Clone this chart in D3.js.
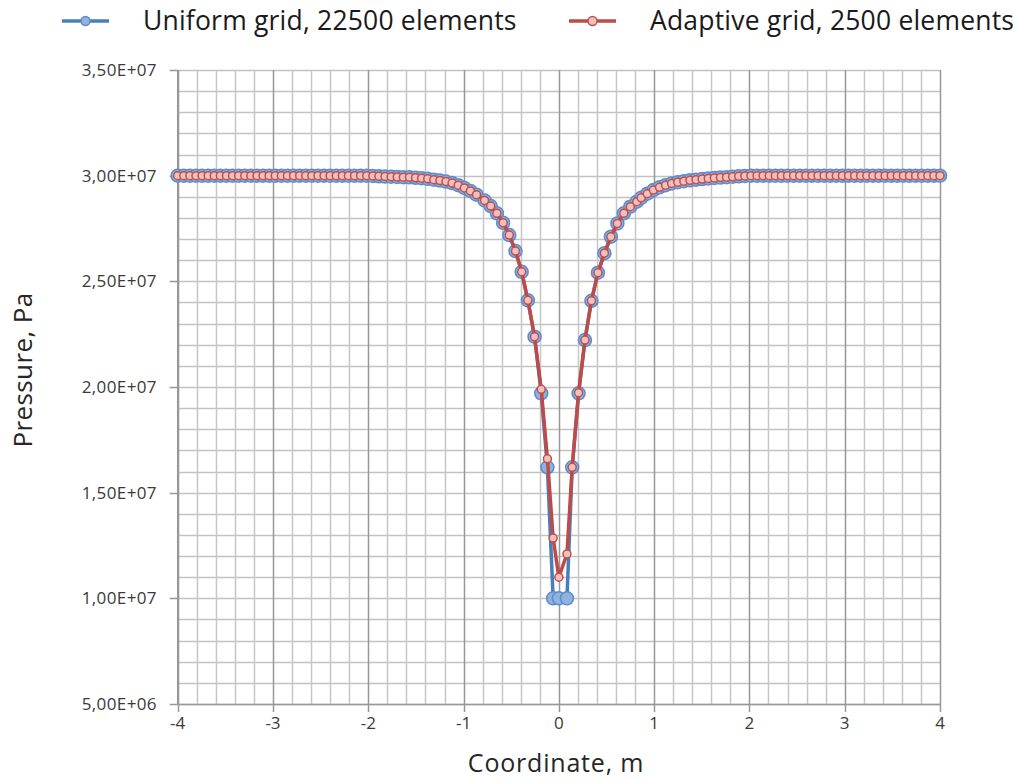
<!DOCTYPE html>
<html>
<head>
<meta charset="utf-8">
<script src="https://cdn.jsdelivr.net/npm/d3@7"></script>
<style>
  body { margin: 0; background: #fff; }
  text { font-family: "Open Sans", sans-serif; }
</style>
</head>
<body>
<script>
// coordinate of every sample point, m
var coordinate = [
  -4.000, -3.936, -3.872, -3.808, -3.744, -3.680, -3.616, -3.552, -3.488, -3.424,
  -3.360, -3.296, -3.232, -3.168, -3.104, -3.040, -2.976, -2.912, -2.848, -2.784,
  -2.720, -2.656, -2.592, -2.528, -2.464, -2.400, -2.336, -2.272, -2.208, -2.144,
  -2.080, -2.016, -1.952, -1.888, -1.824, -1.760, -1.696, -1.632, -1.568, -1.504,
  -1.440, -1.376, -1.312, -1.248, -1.184, -1.120, -1.056, -0.992, -0.928, -0.864,
  -0.780, -0.715, -0.650, -0.585, -0.520, -0.455, -0.390, -0.325, -0.255, -0.185,
  -0.120, -0.060, 0.000, 0.085, 0.140, 0.207, 0.274, 0.342, 0.410, 0.478,
  0.546, 0.614, 0.682, 0.750, 0.818,
  0.864, 0.928, 0.992, 1.056, 1.120, 1.184, 1.248, 1.312, 1.376, 1.440,
  1.504, 1.568, 1.632, 1.696, 1.760, 1.824, 1.888, 1.952, 2.016, 2.080,
  2.144, 2.208, 2.272, 2.336, 2.400, 2.464, 2.528, 2.592, 2.656, 2.720,
  2.784, 2.848, 2.912, 2.976, 3.040, 3.104, 3.168, 3.232, 3.296, 3.360,
  3.424, 3.488, 3.552, 3.616, 3.680, 3.744, 3.808, 3.872, 3.936, 4.000
];

// pressure, Pa - uniform grid
var uniformPressure = [
  3.000e7, 3.000e7, 3.000e7, 3.000e7, 3.000e7, 3.000e7, 3.000e7, 3.000e7, 3.000e7, 3.000e7,
  3.000e7, 3.000e7, 3.000e7, 3.000e7, 3.000e7, 3.000e7, 3.000e7, 3.000e7, 3.000e7, 3.000e7,
  3.000e7, 3.000e7, 3.000e7, 3.000e7, 3.000e7, 3.000e7, 3.000e7, 3.000e7, 3.000e7, 3.000e7,
  3.000e7, 3.000e7, 2.999e7, 2.997e7, 2.996e7, 2.995e7, 2.994e7, 2.993e7, 2.992e7, 2.990e7,
  2.988e7, 2.985e7, 2.981e7, 2.977e7, 2.972e7, 2.965e7, 2.955e7, 2.942e7, 2.928e7, 2.910e7,
  2.883e7, 2.856e7, 2.822e7, 2.777e7, 2.719e7, 2.643e7, 2.545e7, 2.410e7, 2.238e7, 1.970e7,
  1.620e7, 1.000e7, 1.000e7, 1.000e7, 1.620e7, 1.970e7, 2.222e7, 2.408e7, 2.541e7, 2.633e7,
  2.711e7, 2.774e7, 2.822e7, 2.853e7, 2.877e7,
  2.895e7, 2.915e7, 2.932e7, 2.945e7, 2.955e7, 2.963e7, 2.969e7, 2.974e7, 2.978e7, 2.981e7,
  2.984e7, 2.987e7, 2.989e7, 2.991e7, 2.993e7, 2.995e7, 2.997e7, 2.999e7, 3.000e7, 3.000e7,
  3.000e7, 3.000e7, 3.000e7, 3.000e7, 3.000e7, 3.000e7, 3.000e7, 3.000e7, 3.000e7, 3.000e7,
  3.000e7, 3.000e7, 3.000e7, 3.000e7, 3.000e7, 3.000e7, 3.000e7, 3.000e7, 3.000e7, 3.000e7,
  3.000e7, 3.000e7, 3.000e7, 3.000e7, 3.000e7, 3.000e7, 3.000e7, 3.000e7, 3.000e7, 3.000e7
];

// pressure, Pa - adaptive grid
var adaptivePressure = [
  3.000e7, 3.000e7, 3.000e7, 3.000e7, 3.000e7, 3.000e7, 3.000e7, 3.000e7, 3.000e7, 3.000e7,
  3.000e7, 3.000e7, 3.000e7, 3.000e7, 3.000e7, 3.000e7, 3.000e7, 3.000e7, 3.000e7, 3.000e7,
  3.000e7, 3.000e7, 3.000e7, 3.000e7, 3.000e7, 3.000e7, 3.000e7, 3.000e7, 3.000e7, 3.000e7,
  3.000e7, 3.000e7, 2.999e7, 2.997e7, 2.996e7, 2.995e7, 2.994e7, 2.993e7, 2.992e7, 2.990e7,
  2.988e7, 2.985e7, 2.981e7, 2.977e7, 2.972e7, 2.965e7, 2.955e7, 2.942e7, 2.928e7, 2.910e7,
  2.883e7, 2.856e7, 2.822e7, 2.777e7, 2.719e7, 2.643e7, 2.545e7, 2.410e7, 2.238e7, 1.989e7,
  1.660e7, 1.285e7, 1.100e7, 1.210e7, 1.620e7, 1.973e7, 2.222e7, 2.408e7, 2.541e7, 2.633e7,
  2.711e7, 2.774e7, 2.822e7, 2.853e7, 2.877e7,
  2.895e7, 2.915e7, 2.932e7, 2.945e7, 2.955e7, 2.963e7, 2.969e7, 2.974e7, 2.978e7, 2.981e7,
  2.984e7, 2.987e7, 2.989e7, 2.991e7, 2.993e7, 2.995e7, 2.997e7, 2.999e7, 3.000e7, 3.000e7,
  3.000e7, 3.000e7, 3.000e7, 3.000e7, 3.000e7, 3.000e7, 3.000e7, 3.000e7, 3.000e7, 3.000e7,
  3.000e7, 3.000e7, 3.000e7, 3.000e7, 3.000e7, 3.000e7, 3.000e7, 3.000e7, 3.000e7, 3.000e7,
  3.000e7, 3.000e7, 3.000e7, 3.000e7, 3.000e7, 3.000e7, 3.000e7, 3.000e7, 3.000e7, 3.000e7
];

var seriesNames = ["Uniform grid, 22500 elements", "Adaptive grid, 2500 elements"];
var xTicks = [-4, -3, -2, -1, 0, 1, 2, 3, 4];
var yTicks = [5e6, 1e7, 1.5e7, 2e7, 2.5e7, 3e7, 3.5e7];

// set the dimensions of the page and the plot area
var W = 1015, H = 782;
var plot = {left: 177.7, right: 940, top: 70, bottom: 704};

var svg = d3.select("body").append("svg")
  .attr("width", W)
  .attr("height", H);

// set the ranges
var x = d3.scaleLinear().domain([-4, 4]).range([plot.left, plot.right]);
var y = d3.scaleLinear().domain([5e6, 3.5e7]).range([plot.bottom, plot.top]);

// 3,50E+07 style labels
function sciComma(v) {
  var p = v.toExponential(2).split("e");
  var e = +p[1];
  var exp = (e < 0 ? "-" : "+") + (Math.abs(e) < 10 ? "0" : "") + Math.abs(e);
  return p[0].replace(".", ",") + "E" + exp;
}

// grid: horizontal every 1E+06, vertical every 0.2
var grid = svg.append("g");
grid.selectAll(".hgrid")
  .data(d3.range(5e6, 3.5e7 + 1, 1e6))
  .enter().append("line")
  .attr("x1", plot.left).attr("x2", plot.right)
  .attr("y1", function(d) { return Math.round(y(d)) + 0.5; })
  .attr("y2", function(d) { return Math.round(y(d)) + 0.5; })
  .attr("stroke", "#c2c2c2")
  .attr("stroke-width", 1.5);

grid.selectAll(".vgrid")
  .data(d3.range(-40, 41, 2).map(function(k) { return k / 10; }))
  .enter().append("line")
  .attr("x1", function(d) { return Math.round(x(d)) + 0.5; })
  .attr("x2", function(d) { return Math.round(x(d)) + 0.5; })
  .attr("y1", plot.top).attr("y2", plot.bottom)
  .attr("stroke", function(d) { return Math.abs(d - Math.round(d)) < 1e-6 ? "#989898" : "#c6c6c6"; })
  .attr("stroke-width", 1.5);

// y axis
var yAxis = svg.append("g");
yAxis.append("line")
  .attr("x1", plot.left).attr("x2", plot.left)
  .attr("y1", plot.top).attr("y2", plot.bottom)
  .attr("stroke", "#989898").attr("stroke-width", 1.5);
yAxis.selectAll(".tick")
  .data(yTicks)
  .enter().append("line")
  .attr("x1", plot.left - 8).attr("x2", plot.left)
  .attr("y1", function(d) { return Math.round(y(d)) + 0.5; })
  .attr("y2", function(d) { return Math.round(y(d)) + 0.5; })
  .attr("stroke", "#989898").attr("stroke-width", 1.5);
yAxis.selectAll(".label")
  .data(yTicks)
  .enter().append("text")
  .attr("x", 157)
  .attr("y", function(d) { return y(d); })
  .attr("dy", "0.36em")
  .attr("text-anchor", "end")
  .attr("font-size", "17px")
  .attr("letter-spacing", "0.4px")
  .attr("fill", "#3a3a3a")
  .text(sciComma);

// x axis
var xAxis = svg.append("g");
xAxis.append("line")
  .attr("x1", plot.left).attr("x2", plot.right)
  .attr("y1", plot.bottom + 0.5).attr("y2", plot.bottom + 0.5)
  .attr("stroke", "#989898").attr("stroke-width", 1.5);
xAxis.selectAll(".tick")
  .data(xTicks)
  .enter().append("line")
  .attr("x1", function(d) { return Math.round(x(d)) + 0.5; })
  .attr("x2", function(d) { return Math.round(x(d)) + 0.5; })
  .attr("y1", plot.bottom).attr("y2", plot.bottom + 8)
  .attr("stroke", "#989898").attr("stroke-width", 1.5);
xAxis.selectAll(".label")
  .data(xTicks)
  .enter().append("text")
  .attr("x", function(d) { return x(d); })
  .attr("y", 729)
  .attr("text-anchor", "middle")
  .attr("font-size", "17px")
  .attr("fill", "#3a3a3a")
  .text(function(d) { return d; });

// axis titles
svg.append("text")
  .attr("x", 556)
  .attr("y", 772)
  .attr("text-anchor", "middle")
  .attr("font-size", "25px")
  .attr("letter-spacing", "0.8px")
  .attr("fill", "#262626")
  .text("Coordinate, m");

svg.append("text")
  .attr("transform", "translate(32,370) rotate(-90)")
  .attr("text-anchor", "middle")
  .attr("font-size", "26px")
  .attr("letter-spacing", "0.4px")
  .attr("fill", "#262626")
  .text("Pressure, Pa");

// series
var points = coordinate.map(function(c, i) {
  return {x: c, u: uniformPressure[i], a: adaptivePressure[i]};
});

var series = [
  {key: "u", line: "#4a7ebb", fill: "#8fb2de", stroke: "#5b8ccf", r: 6.5},
  {key: "a", line: "#be4b48", fill: "#eec0be", stroke: "#c0504d", r: 4}
];

series.forEach(function(s) {
  var line = d3.line()
    .x(function(d) { return x(d.x); })
    .y(function(d) { return y(d[s.key]); });

  svg.append("path")
    .datum(points)
    .attr("fill", "none")
    .attr("stroke", s.line)
    .attr("stroke-width", 3.5)
    .attr("stroke-linejoin", "round")
    .attr("d", line);

  svg.append("g").selectAll("circle")
    .data(points)
    .enter().append("circle")
    .attr("cx", function(d) { return x(d.x); })
    .attr("cy", function(d) { return y(d[s.key]); })
    .attr("r", s.r)
    .attr("fill", s.fill)
    .attr("stroke", s.stroke)
    .attr("stroke-width", 1.5);
});

// legend
var legendX = [62, 569];
var legend = svg.append("g");
series.forEach(function(s, i) {
  var g = legend.append("g").attr("transform", "translate(" + legendX[i] + ",21)");
  g.append("line")
    .attr("x1", 0).attr("x2", 47)
    .attr("stroke", s.line).attr("stroke-width", 3.5);
  g.append("circle")
    .attr("cx", 23.5).attr("r", 4.5)
    .attr("fill", s.fill).attr("stroke", s.stroke).attr("stroke-width", 1.5);
  g.append("text")
    .attr("x", 81)
    .attr("dy", "0.35em")
    .attr("font-size", "26.5px")
    .attr("letter-spacing", "0.2px")
    .attr("fill", "#1a1a1a")
    .text(seriesNames[i]);
});
</script>
</body>
</html>
